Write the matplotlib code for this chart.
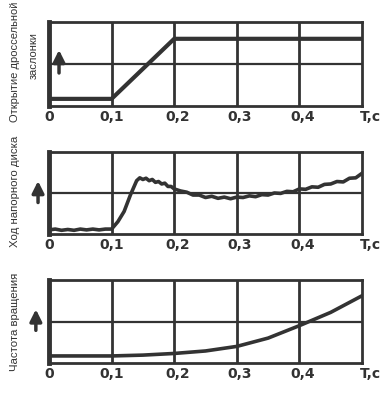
import matplotlib
matplotlib.use("Agg")
import matplotlib.pyplot as plt
from matplotlib.transforms import ScaledTranslation

plt.rcParams['font.family'] = ['Liberation Sans', 'DejaVu Sans']

# ---- data ----
tick_pos = [0, 0.1, 0.2, 0.3, 0.4, 0.5]
tick_labels = ['0', '0,1', '0,2', '0,3', '0,4', 'T,c']

ylabel1_a = 'Открытие дроссельной'
ylabel1_b = 'заслонки'
ylabel2 = 'Ход напорного диска'
ylabel3 = 'Частота вращения'

# throttle opening
t1 = [0.0, 0.1, 0.2, 0.5]
y1 = [0.17, 0.17, 1.6, 1.6]

# pressure disc travel
t2 = [0.000, 0.010, 0.020, 0.030, 0.040, 0.050, 0.060, 0.070, 0.080, 0.090,
      0.100, 0.110, 0.120, 0.130, 0.140, 0.145, 0.150, 0.155, 0.160, 0.165,
      0.170, 0.175, 0.180, 0.185, 0.190, 0.195, 0.200, 0.210, 0.220, 0.230,
      0.240, 0.250, 0.260, 0.270, 0.280, 0.290, 0.300, 0.310, 0.320, 0.330,
      0.340, 0.350, 0.360, 0.370, 0.380, 0.390, 0.400, 0.410, 0.420, 0.430,
      0.440, 0.450, 0.460, 0.470, 0.480, 0.490, 0.500]
y2 = [0.10, 0.12, 0.09, 0.11, 0.09, 0.12, 0.10, 0.12, 0.10, 0.12,
      0.12, 0.30, 0.55, 0.95, 1.30, 1.37, 1.33, 1.36, 1.30, 1.33,
      1.26, 1.28, 1.22, 1.24, 1.16, 1.16, 1.10, 1.05, 1.02, 0.95,
      0.95, 0.89, 0.92, 0.87, 0.90, 0.86, 0.90, 0.89, 0.93, 0.91,
      0.96, 0.95, 1.00, 0.99, 1.04, 1.03, 1.10, 1.09, 1.15, 1.14,
      1.21, 1.22, 1.28, 1.27, 1.36, 1.37, 1.48]

# rotation speed
t3 = [0.0, 0.05, 0.1, 0.15, 0.2, 0.25, 0.3, 0.35, 0.4, 0.45, 0.5]
y3 = [0.17, 0.17, 0.17, 0.19, 0.23, 0.29, 0.40, 0.60, 0.90, 1.22, 1.62]

INK = '#333333'
W, H = 388, 416
fig = plt.figure(figsize=(W / 100, H / 100), dpi=100)
fig.patch.set_facecolor('white')


def make_axes(top_px, bottom_px):
    left_px, right_px = 49, 362
    ax = fig.add_axes([left_px / W, 1 - bottom_px / H,
                       (right_px - left_px) / W, (bottom_px - top_px) / H])
    ax.set_xlim(0, 0.5)
    ax.set_ylim(0, 2)
    ax.set_xticks(tick_pos)
    ax.set_xticklabels(tick_labels, fontsize=10, fontweight='bold', color=INK,
                       family='DejaVu Sans')
    ax.set_yticks([])
    ax.tick_params(axis='x', length=0, pad=3)
    labels = ax.get_xticklabels()
    for i, lbl in enumerate(labels):
        dx = 8 if i == len(labels) - 1 else (3 if i >= 2 else 0)
        lbl.set_transform(lbl.get_transform() +
                          ScaledTranslation(dx / 100, 0, fig.dpi_scale_trans))
    for x in tick_pos[1:-1]:
        ax.axvline(x, color=INK, lw=2, zorder=1)
    ax.axhline(1, color=INK, lw=1.6, zorder=1)
    for s in ax.spines.values():
        s.set_color(INK)
        s.set_linewidth(2)
    ax.spines['left'].set_linewidth(3.5)
    return ax


ax1 = make_axes(22, 106)
ax2 = make_axes(152, 234)
ax3 = make_axes(280, 363)

ax1.plot(t1, y1, color=INK, lw=3, zorder=3, solid_joinstyle='miter')
ax2.plot(t2, y2, color=INK, lw=2.6, zorder=3)
ax3.plot(t3, y3, color=INK, lw=2.6, zorder=3)

# arrows
arrow = dict(arrowstyle='-|>,head_width=0.35,head_length=0.7', color=INK, lw=2.5)
ax1.annotate('', xy=(0.032, 0.70), xytext=(0.032, 0.36),
             xycoords='axes fraction', arrowprops=arrow, annotation_clip=False)
ax2.annotate('', xy=(-0.035, 0.68), xytext=(-0.035, 0.35),
             xycoords='axes fraction', arrowprops=arrow, annotation_clip=False)
ax3.annotate('', xy=(-0.042, 0.68), xytext=(-0.042, 0.36),
             xycoords='axes fraction', arrowprops=arrow, annotation_clip=False)

# y labels
fig.text(15 / W, 1 - 62 / H, ylabel1_a, rotation=90,
         ha='center', va='center', fontsize=8, color=INK)
fig.text(34 / W, 1 - 56 / H, ylabel1_b, rotation=90,
         ha='center', va='center', fontsize=8, color=INK)
fig.text(15 / W, 1 - 191 / H, ylabel2, rotation=90,
         ha='center', va='center', fontsize=8.2, color=INK)
fig.text(15 / W, 1 - 322 / H, ylabel3, rotation=90,
         ha='center', va='center', fontsize=8.2, color=INK)

fig.savefig('out.png', dpi=100, facecolor='white')
